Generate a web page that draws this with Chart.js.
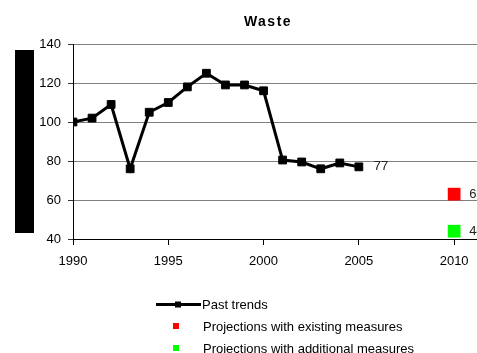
<!DOCTYPE html>
<html>
<head>
<meta charset="utf-8">
<title>Waste</title>
<script src="https://cdn.jsdelivr.net/npm/chart.js@4/dist/chart.umd.min.js"></script>
<style>
  html, body { margin: 0; padding: 0; background: #ffffff; overflow: hidden; }
  canvas { display: block; }
</style>
</head>
<body>
<canvas id="chart" width="477" height="353"></canvas>
<script>
// Historical emissions index (1990 = 100)
const years = [1990, 1991, 1992, 1993, 1994, 1995, 1996, 1997, 1998, 1999, 2000, 2001, 2002, 2003, 2004, 2005];
const pastTrends = [100, 102, 109, 76, 105, 110, 118, 125, 119, 119, 116, 80.5, 79.5, 76, 79, 77];

// 2010 projections
const projectionYears = [2010];
const existingMeasures = [63];
const additionalMeasures = [44];

const xTickYears = [1990, 1995, 2000, 2005, 2010];
const seriesLabels = ['Past trends', 'Projections with existing measures', 'Projections with additional measures'];

const FONT = '"Liberation Sans", Arial, sans-serif';

const toPoints = (xs, ys) => xs.map((x, i) => ({ x: x, y: ys[i] }));

// Values written next to the last point of each series
const endLabels = {
  id: 'endLabels',
  afterDatasetsDraw(chart) {
    const ctx = chart.ctx;
    ctx.save();
    ctx.font = '13px ' + FONT;
    ctx.fillStyle = '#222222';
    ctx.textAlign = 'left';
    ctx.textBaseline = 'middle';
    chart.data.datasets.forEach((ds, i) => {
      const meta = chart.getDatasetMeta(i);
      const last = meta.data[meta.data.length - 1];
      const v = ds.data[ds.data.length - 1].y;
      ctx.fillText(String(v), last.x + 15, last.y);
    });
    ctx.restore();
  }
};

// Title, masked axis caption and the legend below the chart
const decorations = {
  id: 'decorations',
  afterDraw(chart) {
    const ctx = chart.ctx;
    ctx.save();

    ctx.font = 'bold 14px ' + FONT;
    ctx.letterSpacing = '1.5px';
    ctx.fillStyle = '#000000';
    ctx.textAlign = 'center';
    ctx.textBaseline = 'alphabetic';
    ctx.fillText('Waste', 268, 25.5);
    ctx.letterSpacing = '0px';

    ctx.fillStyle = '#000000';
    ctx.fillRect(15, 50, 19, 183);

    const ds = chart.data.datasets;
    ctx.font = '13px ' + FONT;
    ctx.textAlign = 'left';
    ctx.textBaseline = 'middle';

    // line + marker swatch
    ctx.strokeStyle = ds[0].borderColor;
    ctx.lineWidth = 3;
    ctx.beginPath();
    ctx.moveTo(156, 304.5);
    ctx.lineTo(201, 304.5);
    ctx.stroke();
    ctx.fillStyle = ds[0].pointBackgroundColor;
    ctx.fillRect(175, 301.5, 6, 6);
    ctx.fillStyle = '#000000';
    ctx.fillText(ds[0].label, 202, 305.5);

    ctx.fillStyle = ds[1].pointBackgroundColor;
    ctx.fillRect(173, 323, 6, 6);
    ctx.fillStyle = '#000000';
    ctx.fillText(ds[1].label, 203, 327);

    ctx.fillStyle = ds[2].pointBackgroundColor;
    ctx.fillRect(173, 345, 6, 6);
    ctx.fillStyle = '#000000';
    ctx.fillText(ds[2].label, 203, 349);

    ctx.restore();
  }
};

new Chart(document.getElementById('chart'), {
  type: 'line',
  data: {
    datasets: [
      {
        label: seriesLabels[0],
        data: toPoints(years, pastTrends),
        borderColor: '#000000',
        borderWidth: 3,
        pointStyle: 'rect',
        pointRadius: 5.5,
        pointBorderWidth: 1,
        pointBorderColor: '#000000',
        pointBackgroundColor: '#000000',
        tension: 0,
        fill: false
      },
      {
        label: seriesLabels[1],
        data: toPoints(projectionYears, existingMeasures),
        showLine: false,
        pointStyle: 'rect',
        pointRadius: 9,
        pointBorderWidth: 0,
        pointBackgroundColor: '#ff0000',
        borderColor: '#ff0000'
      },
      {
        label: seriesLabels[2],
        data: toPoints(projectionYears, additionalMeasures),
        showLine: false,
        pointStyle: 'rect',
        pointRadius: 9,
        pointBorderWidth: 0,
        pointBackgroundColor: '#00ff00',
        borderColor: '#00ff00'
      }
    ]
  },
  options: {
    responsive: false,
    animation: false,
    devicePixelRatio: 1,
    layout: { autoPadding: false, padding: { top: 44, left: 0, right: 0, bottom: 0 } },
    plugins: {
      legend: { display: false },
      title: { display: false },
      tooltip: { enabled: false }
    },
    scales: {
      x: {
        type: 'linear',
        min: 1990,
        max: 2011.2,
        afterBuildTicks(scale) {
          scale.ticks = xTickYears.map(v => ({ value: v }));
        },
        afterFit(scale) {
          scale.height = 114;
          scale.paddingLeft = 0;
          scale.paddingRight = 0;
        },
        border: { color: '#000000', width: 1 },
        grid: { drawOnChartArea: false, drawTicks: true, tickLength: 6, color: '#000000' },
        ticks: {
          font: { family: FONT, size: 13 },
          color: '#000000',
          padding: 9,
          maxRotation: 0,
          callback: v => String(v)
        }
      },
      y: {
        min: 40,
        max: 140,
        afterFit(scale) {
          scale.width = 73;
          scale.paddingTop = 0;
          scale.paddingBottom = 0;
        },
        border: { color: '#000000', width: 1 },
        grid: { color: '#808080', lineWidth: 1, tickLength: 5, tickColor: '#333333' },
        ticks: {
          stepSize: 20,
          font: { family: FONT, size: 13 },
          color: '#000000',
          padding: 7
        }
      }
    }
  },
  plugins: [endLabels, decorations]
});
</script>
</body>
</html>
